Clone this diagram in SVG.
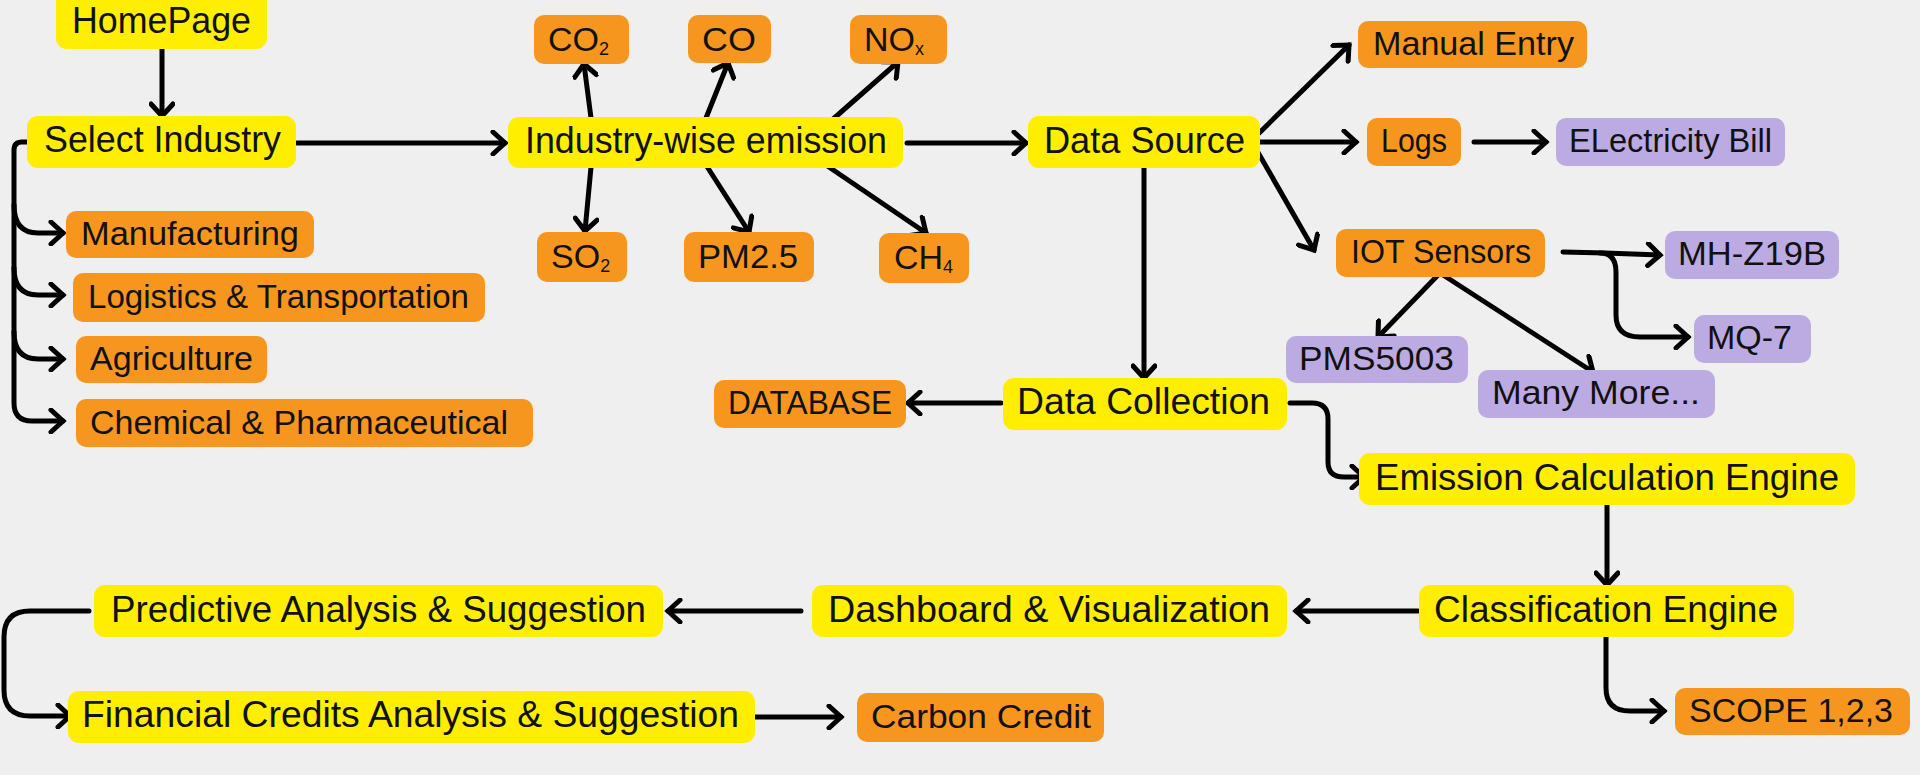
<svg xmlns="http://www.w3.org/2000/svg" width="1920" height="775" viewBox="0 0 1920 775">
<style>
text{font-family:"Liberation Sans",Arial,sans-serif;fill:#111;}
.y rect{fill:#FFEE00;}
.o rect{fill:#F7961F;}
.p rect{fill:#BCABE2;}
.y text{font-size:36px;}
.o text,.p text{font-size:33px;}
.g text{font-size:34px;}
#connectors path{fill:none;stroke:#000;stroke-width:5;stroke-linecap:round;stroke-linejoin:round;marker-end:url(#ah);}
</style>
<defs>
<marker id="ah" markerUnits="userSpaceOnUse" markerWidth="26" markerHeight="26" viewBox="0 0 26 26" refX="21" refY="13" orient="auto">
<path d="M9,2 L21,13 L9,24" fill="none" stroke="#000" stroke-width="5" stroke-linecap="round" stroke-linejoin="miter"/>
</marker>
</defs>
<rect width="1920" height="775" fill="#EFEFEF"/>

<g id="connectors">
<path d="M162,49 L162,116"/>
<path d="M297,143 L505,143"/>
<path d="M27,142 L22,142 Q14,142 14,150 L14,403 Q14,421 32,421 L63,421"/>
<path d="M14,205 Q14,233 38,233 L63,233"/>
<path d="M14,268 Q14,295 38,295 L63,295"/>
<path d="M14,332 Q14,359 38,359 L63,359"/>
<path d="M591,118 L584,64"/>
<path d="M706,118 L728,63"/>
<path d="M832,120 L898,62"/>
<path d="M591,167 L585,231"/>
<path d="M706,165 L749,232"/>
<path d="M823,163 L926,233"/>
<path d="M907,143 L1026,143"/>
<path d="M1252,140 L1349,45"/>
<path d="M1252,142 L1356,142"/>
<path d="M1252,142 L1314,250"/>
<path d="M1474,142 L1546,142"/>
<path d="M1144,168 L1144,378"/>
<path d="M1563,252 L1605,253 L1660,255"/>
<path d="M1600,253 Q1616,253 1616,272 L1616,315 Q1616,337 1640,337 L1688,337"/>
<path d="M1440,273 L1378,337"/>
<path d="M1440,273 L1593,372"/>
<path d="M1001,403 L908,403"/>
<path d="M1290,403 L1312,403 Q1328,403 1328,419 L1328,462 Q1328,477 1344,477 L1364,477"/>
<path d="M1607,505 L1607,585"/>
<path d="M1418,611 L1296,611"/>
<path d="M1606,637 L1606,688 Q1606,711 1630,711 L1664,711"/>
<path d="M801,611 L668,611"/>
<path d="M89,611 L30,611 Q4,611 4,637 L4,690 Q4,716 30,716 L70,716"/>
<path d="M751,717 L841,717"/>
</g>

<g id="homepage" class="y"><rect x="56" y="-12" width="211" height="61" rx="11"/><text x="72" y="33" textLength="179" lengthAdjust="spacingAndGlyphs">HomePage</text></g>
<g id="select-industry" class="y"><rect x="27" y="116" width="269" height="52" rx="11"/><text x="44" y="152" textLength="237" lengthAdjust="spacingAndGlyphs">Select Industry</text></g>
<g id="industry-wise" class="y"><rect x="508" y="117" width="395" height="51" rx="11"/><text x="525" y="153" textLength="362" lengthAdjust="spacingAndGlyphs">Industry-wise emission</text></g>
<g id="data-source" class="y"><rect x="1028" y="116" width="232" height="52" rx="11"/><text x="1044" y="153" textLength="201" lengthAdjust="spacingAndGlyphs">Data Source</text></g>
<g id="data-collection" class="y"><rect x="1003" y="378" width="284" height="52" rx="11"/><text x="1017" y="414" textLength="253" lengthAdjust="spacingAndGlyphs">Data Collection</text></g>
<g id="emission-engine" class="y"><rect x="1359" y="453" width="496" height="52" rx="11"/><text x="1375" y="490" textLength="464" lengthAdjust="spacingAndGlyphs">Emission Calculation Engine</text></g>
<g id="classification" class="y"><rect x="1419" y="585" width="375" height="52" rx="11"/><text x="1434" y="622" textLength="344" lengthAdjust="spacingAndGlyphs">Classification Engine</text></g>
<g id="dashboard" class="y"><rect x="812" y="585" width="475" height="52" rx="11"/><text x="828" y="622" textLength="442" lengthAdjust="spacingAndGlyphs">Dashboard &amp; Visualization</text></g>
<g id="predictive" class="y"><rect x="94" y="585" width="569" height="52" rx="11"/><text x="111" y="622" textLength="535" lengthAdjust="spacingAndGlyphs">Predictive Analysis &amp; Suggestion</text></g>
<g id="financial" class="y"><rect x="68" y="691" width="687" height="52" rx="11"/><text x="82" y="727" textLength="657" lengthAdjust="spacingAndGlyphs">Financial Credits Analysis &amp; Suggestion</text></g>

<g id="manufacturing" class="o"><rect x="66" y="211" width="248" height="47" rx="10"/><text x="81" y="245" textLength="218" lengthAdjust="spacingAndGlyphs">Manufacturing</text></g>
<g id="logistics" class="o"><rect x="73" y="273" width="412" height="49" rx="10"/><text x="88" y="308" textLength="381" lengthAdjust="spacingAndGlyphs">Logistics &amp; Transportation</text></g>
<g id="agriculture" class="o"><rect x="76" y="336" width="191" height="47" rx="10"/><text x="90" y="370" textLength="163" lengthAdjust="spacingAndGlyphs">Agriculture</text></g>
<g id="chemical" class="o"><rect x="76" y="399" width="457" height="48" rx="10"/><text x="90" y="434" textLength="418" lengthAdjust="spacingAndGlyphs">Chemical &amp; Pharmaceutical</text></g>

<g id="co2" class="o g"><rect x="534" y="15" width="95" height="49" rx="10"/><text x="548" y="51">CO<tspan font-size="18" dy="4">2</tspan></text></g>
<g id="co" class="o g"><rect x="688" y="15" width="83" height="48" rx="10"/><text x="702" y="51" textLength="54" lengthAdjust="spacingAndGlyphs">CO</text></g>
<g id="nox" class="o g"><rect x="850" y="15" width="97" height="49" rx="10"/><text x="864" y="51">NO<tspan font-size="18" dy="4">x</tspan></text></g>
<g id="so2" class="o g"><rect x="537" y="232" width="90" height="50" rx="10"/><text x="551" y="268">SO<tspan font-size="18" dy="4">2</tspan></text></g>
<g id="pm25" class="o g"><rect x="684" y="232" width="130" height="50" rx="10"/><text x="698" y="268" textLength="100" lengthAdjust="spacingAndGlyphs">PM2.5</text></g>
<g id="ch4" class="o g"><rect x="879" y="233" width="90" height="50" rx="10"/><text x="894" y="269">CH<tspan font-size="18" dy="4">4</tspan></text></g>

<g id="manual-entry" class="o"><rect x="1358" y="21" width="229" height="47" rx="10"/><text x="1373" y="55" textLength="201" lengthAdjust="spacingAndGlyphs">Manual Entry</text></g>
<g id="logs" class="o"><rect x="1367" y="118" width="94" height="48" rx="10"/><text x="1381" y="152" textLength="66" lengthAdjust="spacingAndGlyphs">Logs</text></g>
<g id="iot" class="o"><rect x="1336" y="229" width="209" height="48" rx="10"/><text x="1351" y="263" textLength="180" lengthAdjust="spacingAndGlyphs">IOT Sensors</text></g>
<g id="database" class="o"><rect x="714" y="380" width="192" height="48" rx="10"/><text x="728" y="414" textLength="164" lengthAdjust="spacingAndGlyphs">DATABASE</text></g>
<g id="scope" class="o"><rect x="1675" y="688" width="235" height="47" rx="10"/><text x="1689" y="722" textLength="204" lengthAdjust="spacingAndGlyphs">SCOPE 1,2,3</text></g>
<g id="carbon-credit" class="o"><rect x="857" y="693" width="247" height="49" rx="10"/><text x="871" y="728" textLength="220" lengthAdjust="spacingAndGlyphs">Carbon Credit</text></g>

<g id="electricity" class="p"><rect x="1556" y="118" width="229" height="48" rx="10"/><text x="1569" y="152" textLength="203" lengthAdjust="spacingAndGlyphs">ELectricity Bill</text></g>
<g id="mhz19b" class="p"><rect x="1665" y="231" width="174" height="48" rx="10"/><text x="1678" y="265" textLength="148" lengthAdjust="spacingAndGlyphs">MH-Z19B</text></g>
<g id="mq7" class="p"><rect x="1694" y="315" width="117" height="48" rx="10"/><text x="1707" y="349" textLength="85" lengthAdjust="spacingAndGlyphs">MQ-7</text></g>
<g id="pms5003" class="p"><rect x="1286" y="336" width="182" height="47" rx="10"/><text x="1299" y="370" textLength="155" lengthAdjust="spacingAndGlyphs">PMS5003</text></g>
<g id="many-more" class="p"><rect x="1478" y="370" width="237" height="48" rx="10"/><text x="1492" y="404" textLength="208" lengthAdjust="spacingAndGlyphs">Many More...</text></g>
</svg>
